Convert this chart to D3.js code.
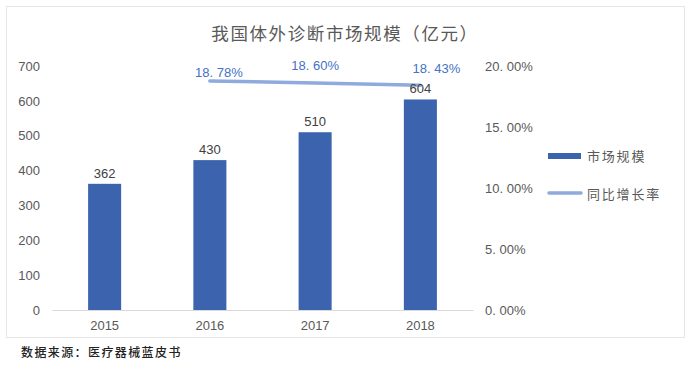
<!DOCTYPE html>
<html><head><meta charset="utf-8">
<script src="https://cdn.jsdelivr.net/npm/d3@7"></script>
<style>
html,body{margin:0;padding:0;background:#fff;}
svg{display:block;}
</style></head>
<body>
<svg id="c" width="691" height="365"></svg>
<script>
const years = ["2015","2016","2017","2018"];
const marketSize = [362, 430, 510, 604];
const growthYears = ["2016","2017","2018"];
const growthRate = [18.78, 18.60, 18.43];
const leftTicks = [0,100,200,300,400,500,600,700];
const rightTicks = [0,5,10,15,20];
const title = "我国体外诊断市场规模（亿元）";
const legendNames = ["市场规模","同比增长率"];
const source = "数据来源：医疗器械蓝皮书";

const svg = d3.select("#c");
const cjk = "'Noto Sans CJK SC', sans-serif";
const latin = "'Liberation Sans', Arial, sans-serif";

svg.append("rect").attr("x",6.5).attr("y",6.5).attr("width",678).attr("height",331)
  .attr("fill","#fff").attr("stroke","#e6e6e6");

const x = d3.scaleBand().domain(years).range([52,473]).paddingInner(0.686).paddingOuter(0.343);
const yL = d3.scaleLinear().domain([0,700]).range([310,66]);
const yR = d3.scaleLinear().domain([0,20]).range([310,66]);

svg.append("text").attr("x",345).attr("y",40).attr("text-anchor","middle")
  .attr("font-family",cjk).attr("font-size",17.5).attr("letter-spacing",1.6)
  .attr("fill","#595959").text(title);

// left axis
const gl = svg.append("g").attr("transform","translate(46,0)")
  .call(d3.axisLeft(yL).tickValues(leftTicks).tickSize(0).tickPadding(6));
gl.select(".domain").remove();
gl.selectAll("text").attr("font-family",latin).attr("font-size",13).attr("fill","#595959");

// right axis
const gr = svg.append("g").attr("transform","translate(480,0)")
  .call(d3.axisRight(yR).tickValues(rightTicks).tickSize(0).tickPadding(5)
    .tickFormat(d => d3.format(".2f")(d).replace(".", ". ") + "%"));
gr.select(".domain").remove();
gr.selectAll("text").attr("font-family",latin).attr("font-size",13).attr("fill","#595959");

// x axis
const gx = svg.append("g").attr("transform","translate(0,310)")
  .call(d3.axisBottom(x).tickSize(0).tickPadding(11));
gx.select(".domain").attr("stroke","#d9d9d9");
gx.selectAll("text").attr("font-family",latin).attr("font-size",13).attr("fill","#595959");

// bars
svg.selectAll(".bar").data(years).join("rect").attr("class","bar")
  .attr("x",d=>x(d)).attr("width",x.bandwidth())
  .attr("y",(d,i)=>yL(marketSize[i])).attr("height",(d,i)=>yL(0)-yL(marketSize[i]))
  .attr("fill","#3c64ae");

// line
const line = d3.line().x(d=>x(d[0])+x.bandwidth()/2).y(d=>yR(d[1]));
svg.append("path").datum(growthYears.map((d,i)=>[d,growthRate[i]]))
  .attr("d",line).attr("fill","none").attr("stroke","#8faadc").attr("stroke-width",3.5)
  .attr("stroke-linecap","round");

// bar labels
svg.selectAll(".bl").data(years).join("text").attr("class","bl")
  .attr("x",d=>x(d)+x.bandwidth()/2).attr("y",(d,i)=>yL(marketSize[i])-6)
  .attr("text-anchor","middle").attr("font-family",latin).attr("font-size",13).attr("fill","#404040")
  .text((d,i)=>marketSize[i]);

// growth labels
const gdx = [9, 0, 16];
const gdy = [-4, -13, -12];
svg.selectAll(".gl").data(growthYears).join("text").attr("class","gl")
  .attr("x",(d,i)=>x(d)+x.bandwidth()/2+gdx[i]).attr("y",(d,i)=>yR(growthRate[i])+gdy[i])
  .attr("text-anchor","middle").attr("font-family",latin).attr("font-size",13).attr("fill","#4472c4")
  .text((d,i)=>d3.format(".2f")(growthRate[i]).replace(".", ". ")+"%");

// legend
svg.append("rect").attr("x",548).attr("y",153).attr("width",33).attr("height",6).attr("fill","#3c64ae");
svg.append("line").attr("x1",549).attr("x2",581).attr("y1",193).attr("y2",193)
  .attr("stroke","#8faadc").attr("stroke-width",3.5).attr("stroke-linecap","round");
svg.selectAll(".lg").data(legendNames).join("text").attr("class","lg")
  .attr("x",587).attr("y",(d,i)=>161+i*38).attr("font-family",cjk).attr("font-size",13)
  .attr("letter-spacing",1.8).attr("fill","#595959").text(d=>d);

svg.append("text").attr("x",21).attr("y",357).attr("font-family",cjk).attr("font-size",12)
  .attr("letter-spacing",1.4).attr("fill","#222").attr("font-weight",500).text(source);
</script>
</body></html>
